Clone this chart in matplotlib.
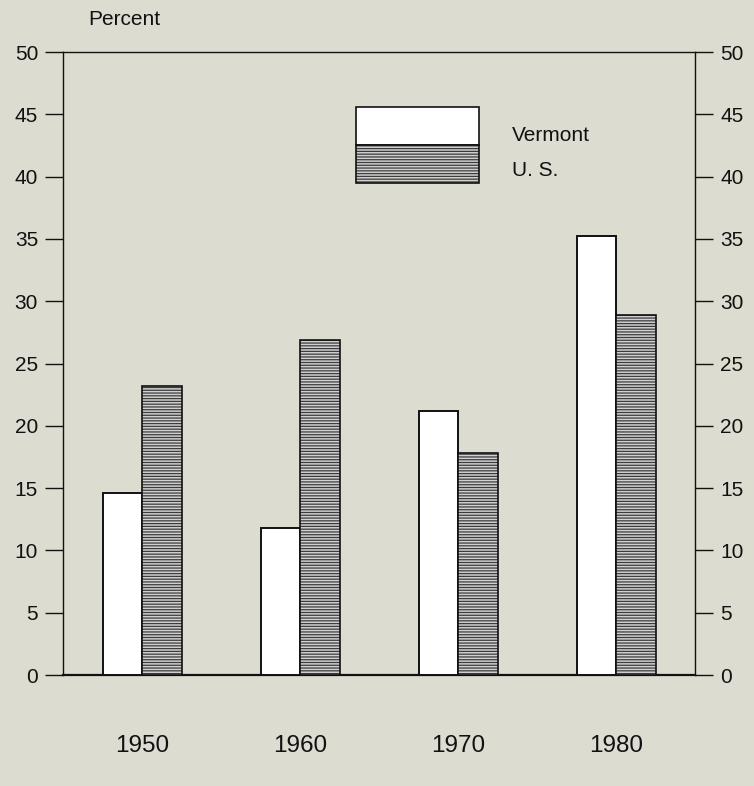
import matplotlib
matplotlib.use("Agg")
import matplotlib.pyplot as plt
from matplotlib.patches import Rectangle

years = ["1950", "1960", "1970", "1980"]
vermont = [14.6, 11.8, 21.2, 35.2]
us = [23.2, 26.9, 17.8, 28.9]
yticks = [0, 5, 10, 15, 20, 25, 30, 35, 40, 45, 50]

BG = "#dddcd0"
plt.rcParams["font.family"] = ["Liberation Sans", "DejaVu Sans"]
plt.rcParams["hatch.linewidth"] = 0.9

fig = plt.figure(figsize=(7.54, 7.86), dpi=100, facecolor=BG)
ax = fig.add_axes([0.0836, 0.1412, 0.8382, 0.7926])
ax.set_facecolor(BG)

x = list(range(len(years)))
w = 0.25
xv = [i - w / 2 for i in x]
xu = [i + w / 2 for i in x]

ax.bar(xv, vermont, width=w, facecolor="white", edgecolor="#111111", linewidth=1.4, zorder=3)
ax.bar(xu, us, width=w, facecolor="#d0d0d0", edgecolor="#3c3c3c", hatch="------", linewidth=0, zorder=3)
ax.bar(xu, us, width=w, facecolor="none", edgecolor="#111111", linewidth=1.2, zorder=4)

ax.set_xlim(-0.5, 3.5)
ax.set_ylim(0, 50)
ax.set_yticks(yticks)
ax.set_xticks(x)
ax.set_xticklabels(years)

ax.tick_params(axis="y", which="both", direction="out", length=13, width=1.0, pad=5,
               labelsize=15, left=True, right=True, labelleft=True, labelright=True, colors="#111111")
ax.tick_params(axis="x", length=0, pad=43, labelsize=17.5, colors="#111111")

for s in ax.spines.values():
    s.set_color("#111111")
    s.set_linewidth(1.0)
ax.spines["bottom"].set_linewidth(1.6)

# Legend drawn manually
ax.add_patch(Rectangle((0.4637, 0.8507), 0.194, 0.061, transform=ax.transAxes,
                       facecolor="white", edgecolor="#111111", linewidth=1.2, zorder=5))
ax.add_patch(Rectangle((0.4637, 0.7897), 0.194, 0.061, transform=ax.transAxes,
                       facecolor="#d0d0d0", edgecolor="#3c3c3c", hatch="------", linewidth=0, zorder=5))
ax.add_patch(Rectangle((0.4637, 0.7897), 0.194, 0.061, transform=ax.transAxes,
                       facecolor="none", edgecolor="#111111", linewidth=1.2, zorder=6))
ax.text(0.7098, 0.8668, "Vermont", transform=ax.transAxes, ha="left", va="center",
        fontsize=15, color="#111111")
ax.text(0.7098, 0.8106, "U. S.", transform=ax.transAxes, ha="left", va="center",
        fontsize=15, color="#111111")

fig.text(0.117, 0.9746, "Percent", ha="left", va="center", fontsize=15, color="#111111")

fig.savefig("out.png", dpi=100, facecolor=BG)
